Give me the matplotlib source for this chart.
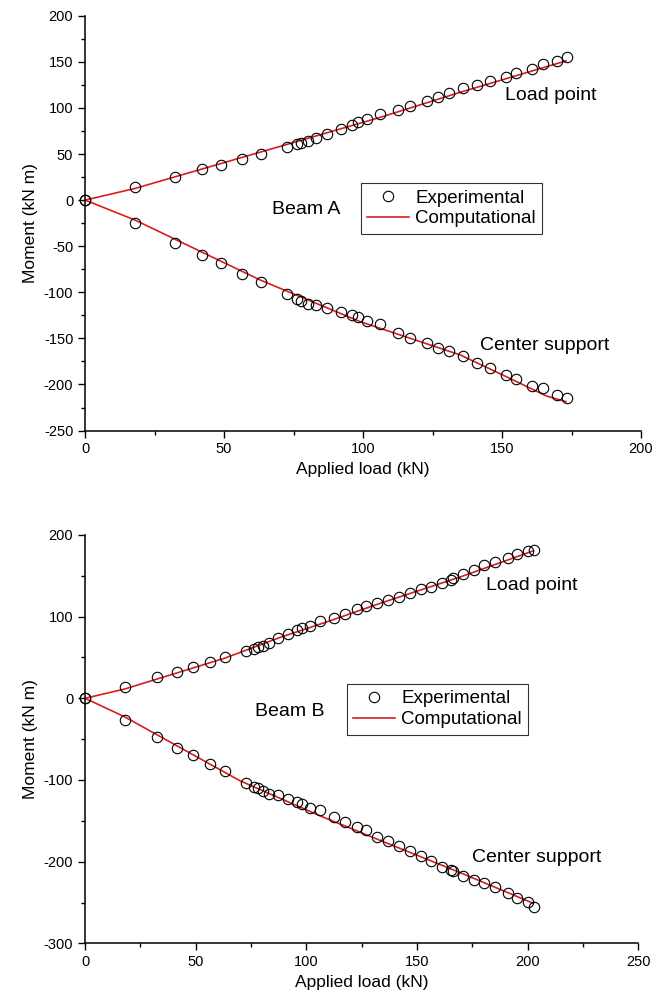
import matplotlib
matplotlib.use('Agg')
import matplotlib.pyplot as plt  # for plots
from matplotlib.ticker import MultipleLocator  # minor tick spacing

plt.rcParams['font.family'] = ['Liberation Sans', 'DejaVu Sans']
plt.rcParams['axes.unicode_minus'] = False  # plain hyphen for negative ticks

# ---- Beam A: measured moments vs applied load ----
load_a = [0, 18.0, 32.4, 42.0, 48.8, 56.4, 63.1, 72.5, 76.4, 77.6, 80.3, 83.0, 86.9,
          92.0, 95.9, 98.3, 101.5, 106.1, 112.7, 116.9, 122.9, 126.9, 130.9, 135.9,
          140.9, 145.7, 151.3, 155.0, 160.7, 164.6, 169.7, 173.3]
load_pt_a = [0, 14.4, 25.3, 33.3, 37.9, 44.1, 49.5, 57.1, 60.4, 61.5, 64.0, 66.9, 71.5,
             77.2, 81.3, 84.9, 87.8, 93.2, 97.6, 101.9, 107.6, 111.9, 116.7, 121.1,
             124.7, 129.4, 133.1, 138.1, 142.0, 147.4, 151.0, 155.3]
center_a = [0, -25.3, -46.3, -59.6, -68.6, -80.2, -88.6, -101.9, -107.6, -109.2, -112.7,
            -114.1, -116.7, -121.7, -124.7, -126.5, -130.8, -134.4, -143.9, -149.3,
            -155.4, -160.1, -163.4, -169.1, -176.4, -182.4, -189.7, -194.4, -201.6,
            -204.1, -211.4, -214.3]

# Beam A: computed curves
comp_load_pt_x_a = [0, 18, 106, 135, 173]
comp_load_pt_a = [0, 12.7, 89.6, 117, 151]
comp_center_x_a = [0, 18, 63, 99, 135, 151, 166, 173]
comp_center_a = [0, -21.7, -86.7, -131.9, -168, -190.8, -212.5, -218.6]

# ---- Beam B: measured moments vs applied load ----
load_b = [0, 17.8, 32.4, 41.7, 48.6, 56.5, 63.2, 72.6, 76.3, 78.0, 80.2, 83.2, 87.0,
          91.8, 95.9, 97.9, 101.6, 106.1, 112.5, 117.4, 123.0, 126.8, 131.8, 136.7,
          141.8, 146.8, 151.8, 156.2, 161.2, 165.2, 166.1, 170.9, 175.7, 180.4, 185.2,
          190.9, 195.3, 200.0, 202.8]
load_pt_b = [0, 14.4, 25.5, 32.8, 38.9, 45.0, 50.8, 58.1, 60.9, 62.2, 64.3, 67.9, 73.2,
             78.5, 83.4, 85.9, 88.7, 94.9, 98.9, 103.1, 109.2, 113.2, 116.5, 120.2,
             124.2, 129.5, 133.6, 136.4, 141.7, 144.6, 147.1, 152.0, 156.9, 163.0,
             167.4, 172.3, 176.4, 180.4, 181.6]
center_b = [0, -26.3, -46.8, -60.3, -69.2, -80.6, -89.6, -103.1, -109.2, -110.4, -113.3,
            -116.6, -118.5, -122.7, -126.4, -129.5, -133.7, -136.9, -145.1, -152.0,
            -157.3, -161.4, -170.4, -175, -181, -187, -193, -199, -206, -210, -212,
            -217, -222, -226, -231, -238, -244, -249, -255]

# Beam B: computed curves
comp_load_pt_x_b = [0, 17.8, 63.2, 88, 110.7, 133, 170, 202.5]
comp_load_pt_b = [0, 11.3, 49.2, 74.4, 94.9, 116, 149, 180.5]
comp_center_x_b = [0, 17.8, 70, 106.1, 131.8, 170, 202.5]
comp_center_b = [0, -22.6, -101, -143.8, -172.3, -214, -251]

RED = '#d81e1e'


# draws one beam panel with both measured series and computed curves
def panel(ax, load, pt, cs, cx1, cy1, cx2, cy2, xmax, ymin, ymaj, ymin_step, beam,
          beam_xy, lp_xy, cs_xy, leg_xy):
    ax.plot(cx1, cy1, color=RED, lw=1.2, label='Computational', zorder=2)
    ax.plot(cx2, cy2, color=RED, lw=1.2, zorder=2)
    ax.plot(load, pt, 'o', mfc='none', mec='black', ms=7.5, mew=0.8,
            clip_on=False, label='Experimental', zorder=3)
    ax.plot(load, cs, 'o', mfc='none', mec='black', ms=7.5, mew=0.8,
            clip_on=False, zorder=3)

    ax.set_xlim(0, xmax)
    ax.set_ylim(ymin, 200)
    ax.xaxis.set_major_locator(MultipleLocator(50))
    ax.xaxis.set_minor_locator(MultipleLocator(25))
    ax.yaxis.set_major_locator(MultipleLocator(ymaj))
    ax.yaxis.set_minor_locator(MultipleLocator(ymin_step))

    # open frame: only left and bottom spines
    ax.spines['top'].set_visible(False)
    ax.spines['right'].set_visible(False)
    ax.spines['left'].set_linewidth(1.1)
    ax.spines['bottom'].set_linewidth(1.1)
    ax.tick_params(which='major', direction='out', length=5, width=1.0, labelsize=10.5)
    ax.tick_params(which='minor', direction='out', length=3, width=1.0)

    ax.set_xlabel('Applied load (kN)', fontsize=12.5)
    ax.set_ylabel('Moment (kN m)', fontsize=12.5)

    ax.text(beam_xy[0], beam_xy[1], beam, fontsize=14, ha='left', va='center')
    ax.text(lp_xy[0], lp_xy[1], 'Load point', fontsize=14, ha='left', va='center')
    ax.text(cs_xy[0], cs_xy[1], 'Center support', fontsize=14, ha='left', va='center')

    handles, labels = ax.get_legend_handles_labels()
    leg = ax.legend(handles[::-1], labels[::-1], loc='upper left', bbox_to_anchor=leg_xy,
                    borderaxespad=0, fontsize=13.5, frameon=True, fancybox=False,
                    borderpad=0.35, labelspacing=0.2, handlelength=2.2,
                    handletextpad=0.35)
    leg.get_frame().set_edgecolor('black')
    leg.get_frame().set_linewidth(0.8)


fig = plt.figure(figsize=(6.65, 10.07), dpi=100)
ax1 = fig.add_axes([0.128, 0.5724, 0.836, 0.412])
ax2 = fig.add_axes([0.128, 0.0632, 0.832, 0.4056])

panel(ax1, load_a, load_pt_a, center_a, comp_load_pt_x_a, comp_load_pt_a,
      comp_center_x_a, comp_center_a, 200, -250, 50, 25, 'Beam A',
      (67.2, -9.8), (151.1, 113.8), (142.1, -157.2), (0.496, 0.597))
panel(ax2, load_b, load_pt_b, center_b, comp_load_pt_x_b, comp_load_pt_b,
      comp_center_x_b, comp_center_b, 250, -300, 100, 50, 'Beam B',
      (76.8, -16.2), (181.1, 138.6), (174.8, -195.2), (0.473, 0.636))

fig.savefig('out.png', dpi=100)
